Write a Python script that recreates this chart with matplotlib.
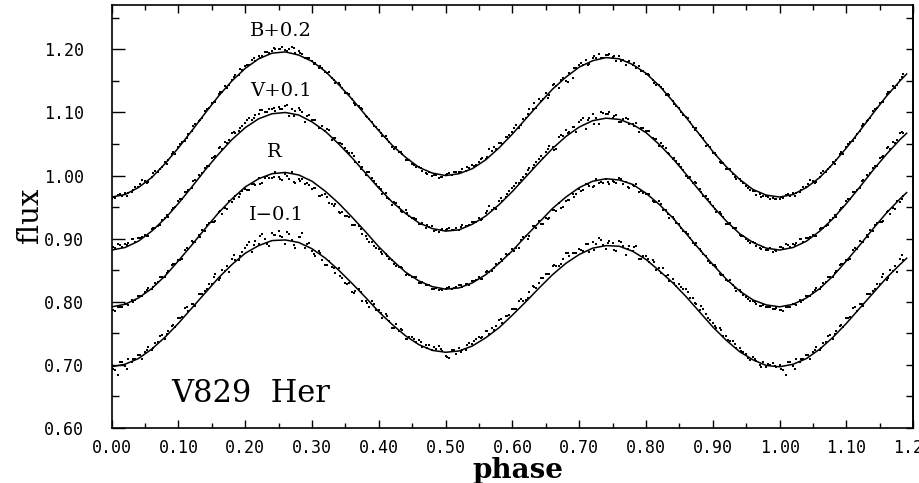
import numpy as np
import matplotlib
matplotlib.use("Agg")
from matplotlib import pyplot as plt
from matplotlib.ticker import MultipleLocator

# phase grid of the fitted light curves (step 0.02, last point 1.19)
phase = np.append(np.round(np.arange(0, 1.19, 0.02), 2), 1.19)

# fitted curves (already shifted: B+0.2, V+0.1, R, I-0.1)
fit_B = [0.966, 0.970, 0.981, 0.997, 1.019, 1.044, 1.071, 1.099, 1.126, 1.150,
         1.170, 1.185, 1.194, 1.196, 1.191, 1.181, 1.165, 1.144, 1.121, 1.096,
         1.071, 1.048, 1.029, 1.013, 1.004, 1.000, 1.003, 1.011, 1.025, 1.044,
         1.066, 1.090, 1.114, 1.137, 1.156, 1.172, 1.182, 1.187, 1.185, 1.176,
         1.162, 1.142, 1.118, 1.092, 1.065, 1.038, 1.014, 0.994, 0.978, 0.969,
         0.966, 0.970, 0.981, 0.997, 1.019, 1.044, 1.071, 1.099, 1.126, 1.150,
         1.161]
fit_V = [0.882, 0.886, 0.896, 0.912, 0.932, 0.956, 0.982, 1.009, 1.034, 1.057,
         1.076, 1.090, 1.098, 1.100, 1.096, 1.085, 1.070, 1.050, 1.028, 1.004,
         0.980, 0.958, 0.940, 0.925, 0.916, 0.912, 0.914, 0.923, 0.936, 0.954,
         0.975, 0.998, 1.021, 1.043, 1.062, 1.077, 1.087, 1.091, 1.089, 1.081,
         1.068, 1.049, 1.027, 1.002, 0.976, 0.951, 0.928, 0.908, 0.894, 0.885,
         0.882, 0.886, 0.896, 0.912, 0.932, 0.956, 0.982, 1.009, 1.034, 1.057,
         1.067]
fit_R = [0.792, 0.796, 0.806, 0.821, 0.841, 0.865, 0.890, 0.916, 0.941, 0.963,
         0.982, 0.995, 1.003, 1.005, 1.001, 0.991, 0.975, 0.956, 0.934, 0.911,
         0.887, 0.866, 0.847, 0.833, 0.824, 0.820, 0.822, 0.830, 0.843, 0.861,
         0.881, 0.904, 0.926, 0.948, 0.966, 0.981, 0.991, 0.995, 0.993, 0.986,
         0.972, 0.954, 0.933, 0.908, 0.883, 0.859, 0.836, 0.817, 0.803, 0.795,
         0.792, 0.796, 0.806, 0.821, 0.841, 0.865, 0.890, 0.916, 0.941, 0.963,
         0.973]
fit_I = [0.697, 0.701, 0.710, 0.725, 0.744, 0.766, 0.790, 0.814, 0.838, 0.859,
         0.877, 0.889, 0.897, 0.898, 0.894, 0.884, 0.869, 0.850, 0.829, 0.807,
         0.784, 0.764, 0.746, 0.732, 0.723, 0.720, 0.722, 0.730, 0.743, 0.759,
         0.779, 0.800, 0.822, 0.843, 0.861, 0.875, 0.885, 0.889, 0.888, 0.880,
         0.867, 0.849, 0.830, 0.808, 0.784, 0.760, 0.739, 0.721, 0.708, 0.699,
         0.697, 0.701, 0.710, 0.725, 0.744, 0.766, 0.790, 0.814, 0.838, 0.859,
         0.869]

# observed points, first night set: offset from the fit in units of 0.001,
# one per 0.005 in phase (0 ... 0.995)
res_B = [-3, -2, 1, -1, 2, 0, -2, 3, 1, 8, 2, -3, 1, 4, -2, 0, 3, -1, 2, -4,
         1, 3, -2, 2, 0, 4, 1, -1, 3, 2, 2, -2, 3, 1, 4, 0, 2, 5, -1, 3,
         4, 2, 6, 1, 5, 3, 7, 2, 4, 6, 5, 9, 3, 6, 11, 2, 7, 4, 1, 3,
         0, 2, -3, 1, -1, 4, 0, -2, 3, 1, -1, 2, 0, -3, 1, 3, -2, 0, 2, -1,
         1, -2, 3, 0, -3, 2, -1, 1, -4, 0, -2, -4, 0, -3, -5, -1, -4, -2, -6, -3,
         1, 3, -1, 4, 2, 5, 0, 3, 6, 2, 4, 7, 2, 12, 5, 3, 8, 1, 6, 4,
         3, 8, -2, 6, 1, 9, 4, -1, 7, 2, 5, -3, 7, 1, -8, 4, -6, 2, -10, 3,
         4, 1, 6, -2, 5, 3, 8, 0, 4, 6, 2, -4, 5, 1, -5, 3, 0, -2, 4, 1,
         -1, 3, 0, -3, 2, 1, -2, 4, 0, -1, 2, -3, 1, 0, -2, 3, -1, 2, -4, 1,
         -2, 1, -4, 0, -3, 2, -1, -5, 0, -2, -3, -5, -2, -6, -3, -4, -1, -5, -3, -4]
res_V = [5, 3, 7, 2, 6, 4, 8, 1, 5, 3, 2, -3, 4, 0, -2, 3, 1, -4, 2, 0,
         3, 1, 5, 2, -1, 4, 6, 2, 3, 0, 6, 4, 9, 3, 7, 5, 10, 6, 4, 8,
         8, 11, 5, 9, 7, 12, 6, 10, 8, 4, 9, 6, 10, -4, 8, 5, 11, 7, -5, 9,
         3, 7, -2, 5, 1, 8, -4, 4, 2, 6, 5, 2, 8, 0, 6, 3, -3, 7, 4, 1,
         2, -3, 4, 0, -4, 3, 1, -2, 5, -1, 0, 3, -2, 2, -4, 1, 4, -1, -3, 2,
         2, 4, 0, 3, -1, 5, 2, 1, 4, 0, 3, -2, 4, 12, 1, -3, 5, 0, 2, 6,
         5, 8, 2, 6, 4, 9, 3, 7, 5, 1, 6, 9, 2, -6, 8, 5, 11, 3, 7, -4,
         8, 12, -8, 6, 10, 4, -7, 9, 7, 11, 2, 6, -4, 3, 7, -2, 1, 5, -5, 4,
         3, 7, 1, 5, -2, 4, 6, 2, 0, 3, 4, 1, -3, 3, 0, 5, 2, -2, 4, 1,
         1, -3, 3, 0, -4, 2, -1, 4, -2, 0, -2, -4, 0, -3, -5, -1, -3, 1, -4, -2]
res_R = [-5, -7, -2, -4, 1, -3, 2, -1, 3, 0, 2, 5, -1, 3, 0, 4, -2, 2, 6, 1,
         1, -3, 4, 0, 6, -2, 3, 5, -4, 2, -2, -6, 1, -8, -3, 2, -5, 0, -7, -1,
         -4, -8, -2, -6, 1, -9, -3, -5, -7, 2, -6, -11, -3, -9, 3, -13, -7, -4, -10, -8,
         -12, -7, -15, -9, -4, -13, -10, -6, -14, -8, -9, -5, -12, -7, -3, -10, -6, -11, -4, -8,
         -3, -6, 0, -4, 1, -5, -2, 2, -4, -1, -1, 2, -3, 0, -2, 1, -4, -1, -3, -2,
         1, 3, -1, 2, 4, 0, 2, -1, 3, 1, 2, -3, 4, 0, -4, 3, 1, -2, 5, 0,
         3, -1, -8, 4, 1, -6, 5, -3, 2, -9, -5, -10, -3, -8, 0, -12, -6, -9, -2, -7,
         -3, -7, 1, -5, -9, 2, -4, -6, 0, -8, -2, -6, 3, -4, 1, -8, -1, 4, -5, -3,
         -1, 3, -4, 0, 5, -3, 2, -5, 1, -2, 2, -2, 3, 0, -3, 4, 1, -1, 2, -4,
         -1, 2, -3, 1, -2, 3, 0, -4, 1, -2, -3, -5, -1, -4, -6, -2, -4, -3, -5, -2]
res_I = [3, -6, -15, 4, -3, 6, -1, 2, 5, -4, 3, 7, -2, 5, 1, 8, -3, 4, 6, 0,
         9, 4, 12, 2, 7, -3, 10, 5, 3, 8, 2, 12, -4, 7, 1, -6, 9, 3, -2, 6,
         8, 14, -4, 10, 3, 16, 6, -7, 12, 9, 15, 5, -6, 11, 2, -9, 8, 17, -3, 6,
         -3, -8, 4, -6, -11, 0, -5, -9, 3, -7, -10, -4, -14, -7, 2, -12, -6, -9, 6, -3,
         3, -4, 7, 0, -6, 5, -2, 4, -5, 2, 5, 1, 7, -2, 4, 6, 0, 3, 8, 2,
         -6, -9, 2, -4, 5, 0, -3, 6, 3, 8, 7, 4, 10, 2, 8, 6, 12, 3, 9, 5,
         9, 5, 12, 7, 3, 10, 14, 6, 8, 11, 11, 7, 14, 9, 4, 12, 16, 8, 10, 6,
         8, 3, 12, -4, 9, 5, 14, 2, -6, 7, 4, -8, 9, 2, -10, 6, 0, 11, -5, 3,
         5, 1, 8, -3, 4, 9, 2, -2, 6, 0, 9, 6, 12, 4, 10, 7, 3, 11, 8, 5,
         6, 3, 9, 1, 7, 4, 8, 2, 5, 3, 2, -3, 4, 0, -4, 3, -2, 1, 5, -1]

# second set, one per 0.01 in phase starting at 0.0025
res2_B = [-1, 2, -4, 1, 3, -2, 4, 0, -3, 2, 2, -1, 4, 0, 3, 1, 4, -2, 3, 6,
          3, 7, 1, 5, 8, 6, 2, 10, 4, 1, -2, 3, 0, -1, 2, 1, -3, 2, 0, -2,
          -1, 2, -3, 1, -2, -3, 0, -5, -2, -4, 2, 4, 1, 5, 3, 6, 2, 9, 5, 3,
          7, -1, 5, 10, 2, -5, 6, 2, -9, 4, 5, -3, 7, 2, 4, 3, -3, 1, 4, -2,
          2, -2, 1, 3, -1, -1, 2, -3, 1, 0, 1, -3, -1, -4, 0, -4, -2, -6, -3, -5]
res2_V = [4, 6, 2, 7, 3, -1, 3, -3, 2, 1, 4, 2, 6, 1, 3, 5, 8, 3, 9, 6,
          10, 7, 13, 5, 9, 7, 12, -3, 9, 6, 5, -1, 7, 2, 4, 3, 6, -2, 5, 2,
          1, -2, 3, -3, 2, 2, -1, 3, -3, 0, 3, 1, 4, 0, 2, -1, 5, 2, 8, 3,
          6, 3, 8, 4, 7, 8, -5, 10, 4, 6, 10, 5, -6, 12, 7, 5, -3, 6, 0, 3,
          5, 2, 6, 1, 4, 2, -2, 4, 1, 3, -1, 3, -3, 1, -2, -3, 0, -4, -2, -1]
res2_R = [-6, -3, 0, -2, 2, 3, 0, 5, 1, 4, -2, 5, 1, -3, 3, -5, 0, -7, -2, -4,
          -7, -3, -9, 0, -5, -10, -5, -12, -8, -6, -9, -14, -6, -11, -12, -6, -10, -4, -8, -7,
          -5, -1, -3, 1, -2, 1, -2, 0, -3, -1, 2, 0, 3, 1, 2, -2, 3, -1, 4, 1,
          -4, 2, -7, 3, -5, -8, -4, -11, -6, -9, -6, 0, -8, -3, -5, -4, 2, -6, 0, -2,
          1, -3, 3, -1, 2, -1, 3, -2, 1, -3, 2, -2, 0, -3, 1, -4, -2, -5, -3, -4]
res2_I = [-4, 5, -8, 2, 4, 5, 0, 9, 2, 6, 6, 11, 3, 8, 4, 10, -3, 5, 13, 2,
          11, 5, 15, -3, 9, 7, 13, -5, 10, 4, -6, 2, -9, -4, -7, -8, -12, 1, -6, 4,
          1, 6, -3, 4, -4, 3, 6, 0, 5, 4, -8, 3, -2, 5, 6, 5, 9, 3, 11, 6,
          7, 12, 4, 9, 13, 9, 13, 6, 15, 8, 6, 11, -3, 10, 4, -6, 7, 1, 9, -4,
          3, 7, -1, 5, 2, 7, 10, 5, 12, 6, 4, 8, 2, 6, 3, -2, 3, -5, 2, 0]

band_labels = ["B+0.2", "V+0.1", "R", "I\u22120.1"]

# observations cover one cycle; the start of the cycle is shown again after 1.0
obs_phase = np.arange(len(res_B)) * 0.005
obs2_phase = np.arange(len(res2_B)) * 0.01 + 0.0025
n_rep, n_rep2 = 38, 19

fig = plt.figure(figsize=(9.19, 4.83), dpi=100)
ax = fig.add_axes([0.1215, 0.1139, 0.8723, 0.8753])

bands = [(fit_B, res_B, res2_B), (fit_V, res_V, res2_V),
         (fit_R, res_R, res2_R), (fit_I, res_I, res2_I)]
for fit, res, res2 in bands:
    x_obs = np.concatenate([obs_phase, obs_phase[:n_rep] + 1.0,
                            obs2_phase, obs2_phase[:n_rep2] + 1.0])
    r_obs = np.concatenate([res, res[:n_rep], res2, res2[:n_rep2]]) / 1000.0
    y_obs = np.interp(x_obs, phase, fit) + r_obs
    ax.scatter(x_obs, y_obs, s=3.0, marker="s", color="black", linewidths=0)
    ax.plot(phase, fit, color="black", lw=1.1)

# band labels above each curve
label_pos = [(0.2535, 1.229), (0.254, 1.134), (0.243, 1.037), (0.246, 0.9376)]
for txt, (x, y) in zip(band_labels, label_pos):
    ax.text(x, y, txt, ha="center", va="center", family="DejaVu Serif", fontsize=14)

ax.text(0.2085, 0.655, "V829  Her", ha="center", va="center",
        family="DejaVu Serif", fontsize=22)

ax.set_xlim(0, 1.2)
ax.set_ylim(0.60, 1.27)
ax.xaxis.set_major_locator(MultipleLocator(0.1))
ax.xaxis.set_minor_locator(MultipleLocator(0.05))
ax.yaxis.set_major_locator(MultipleLocator(0.1))
ax.yaxis.set_minor_locator(MultipleLocator(0.05))
ax.xaxis.set_major_formatter(lambda v, p: f"{v:.2f}")
ax.yaxis.set_major_formatter(lambda v, p: f"{v:.2f}")
ax.xaxis.set_ticks_position("both")
ax.tick_params(axis="x", which="major", direction="in", length=5.8, width=1.0, pad=8)
ax.tick_params(axis="x", which="minor", direction="in", length=3.6, width=1.0)
ax.tick_params(axis="y", which="major", direction="in", length=9, width=1.0, pad=20, right=False)
ax.tick_params(axis="y", which="minor", direction="in", length=5, width=1.0, right=False)
for lab in ax.get_xticklabels() + ax.get_yticklabels():
    lab.set_family("DejaVu Sans Mono")
    lab.set_fontsize(12)

# right side: short ticks every 0.05, no labels
sec = ax.secondary_yaxis("right")
sec.yaxis.set_major_locator(MultipleLocator(0.05))
sec.tick_params(direction="in", length=5, width=1.0, labelright=False)
sec.spines["right"].set_linewidth(1.2)

for sp in ax.spines.values():
    sp.set_linewidth(1.2)

fig.text(0.033, 0.555, "flux", rotation=90, ha="center", va="center",
         family="DejaVu Serif", fontsize=21)
fig.text(0.5637, 0.026, "phase", ha="center", va="center",
         family="DejaVu Serif", fontweight="bold", fontsize=20)

fig.savefig("out.png", dpi=100)
